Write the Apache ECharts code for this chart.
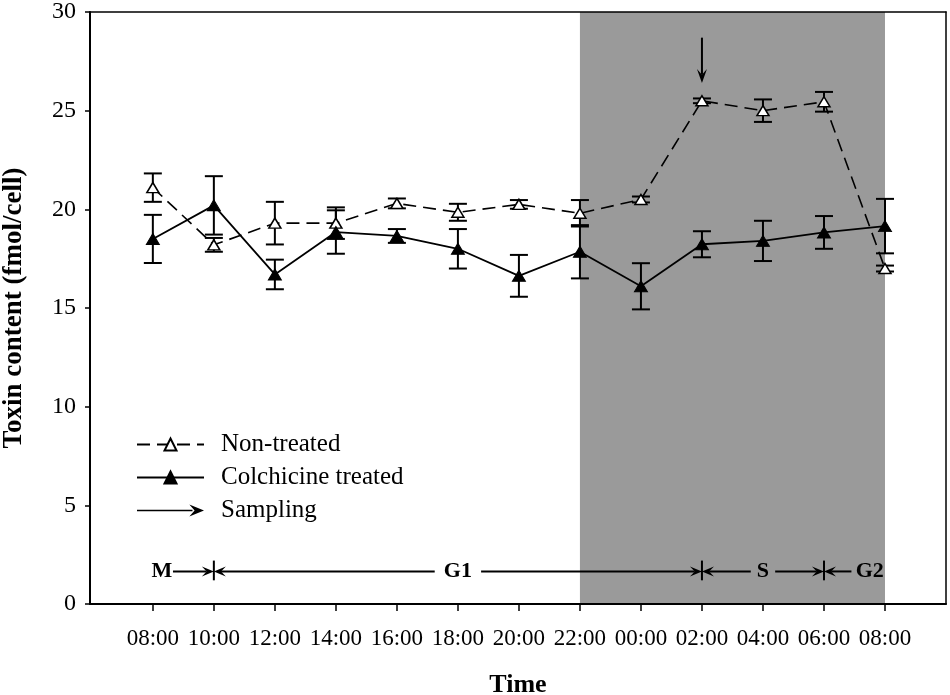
<!DOCTYPE html>
<html><head><meta charset="utf-8">
<script src="https://cdn.jsdelivr.net/npm/echarts@6/dist/echarts.min.js"></script>
<style>html,body{margin:0;padding:0;background:#fff}#c{width:950px;height:695px}</style>
</head><body><div id="c"></div>
<script>
// ---- data ----
const times = ['08:00','10:00','12:00','14:00','16:00','18:00','20:00','22:00','00:00','02:00','04:00','06:00','08:00'];
const nonTreated    = [21.1, 18.2, 19.3, 19.3, 20.3, 19.85, 20.25, 19.8, 20.5, 25.5, 25.0, 25.45, 17.0];
const nonTreatedErr = [0.72, 0.35, 1.08, 0.8, 0.25, 0.43, 0.22, 0.67, 0.15, 0.12, 0.57, 0.5, 0.15];
const colchicine    = [18.5, 20.2, 16.7, 18.85, 18.65, 18.0, 16.63, 17.85, 16.1, 18.23, 18.4, 18.83, 19.15];
const colchicineErr = [1.22, 1.48, 0.75, 1.1, 0.35, 1.0, 1.06, 1.35, 1.17, 0.66, 1.02, 0.83, 1.38];
const darkPeriod = [7, 12];               // 22:00 -> 08:00 (index)
const samplingArrow = [9, 28.7, 26.4];    // x index, from y, to y
const phaseNames = ['M', 'G1', 'S', 'G2'];
const phaseLabelX = [0.15, 5, 10, 11.75];
const phaseBounds = [1, 9, 11];
const phaseArrows = [[0.33, 1], [4.62, 1], [5.38, 9], [9.8, 9], [10.2, 11], [11.45, 11]];
const phaseY = 1.65;
const phaseBarRange = [1.2, 2.2];
const tickIdx = times.map((t, i) => i);

const FF = 'Liberation Serif';
const chart = echarts.init(document.getElementById('c'));

function errRender(params, api) {
  const x = api.value(0), lo = api.value(1), hi = api.value(2);
  const a = api.coord([x, lo]), b = api.coord([x, hi]);
  const w = 9, st = {stroke: '#000', lineWidth: 2};
  return {type: 'group', children: [
    {type: 'line', shape: {x1: a[0], y1: a[1], x2: b[0], y2: b[1]}, style: st},
    {type: 'line', shape: {x1: b[0] - w, y1: b[1], x2: b[0] + w, y2: b[1]}, style: st},
    {type: 'line', shape: {x1: a[0] - w, y1: a[1], x2: a[0] + w, y2: a[1]}, style: st}
  ]};
}
function hArrowRender(params, api) {
  const p1 = api.coord([api.value(0), api.value(2)]);
  const p2 = api.coord([api.value(1), api.value(2)]);
  const dir = p2[0] > p1[0] ? 1 : -1, L = 12, H = 5;
  const tip = p2;
  return {type: 'group', children: [
    {type: 'line', shape: {x1: p1[0], y1: p1[1], x2: tip[0] - dir * L * 0.6, y2: tip[1]}, style: {stroke: '#000', lineWidth: 2}},
    {type: 'polygon', shape: {points: [[tip[0], tip[1]], [tip[0] - dir * L, tip[1] - H], [tip[0] - dir * L * 0.6, tip[1]], [tip[0] - dir * L, tip[1] + H]]}, style: {fill: '#000'}}
  ]};
}
function barRender(params, api) {
  const a = api.coord([api.value(0), api.value(1)]), b = api.coord([api.value(0), api.value(2)]);
  return {type: 'line', shape: {x1: a[0], y1: a[1], x2: b[0], y2: b[1]}, style: {stroke: '#000', lineWidth: 2}};
}
function labelRender(params, api) {
  const p = api.coord([api.value(0), api.value(1)]);
  return {type: 'text', x: p[0], y: p[1], style: {text: phaseNames[params.dataIndex], fill: '#000',
    font: 'bold 22px "' + FF + '"', align: 'center', verticalAlign: 'middle'}};
}
function vArrowRender(params, api) {
  const a = api.coord([api.value(0), api.value(1)]), b = api.coord([api.value(0), api.value(2)]);
  const L = 14, H = 5;
  return {type: 'group', children: [
    {type: 'line', shape: {x1: a[0], y1: a[1], x2: b[0], y2: b[1] - L * 0.6}, style: {stroke: '#000', lineWidth: 2}},
    {type: 'polygon', shape: {points: [[b[0], b[1]], [b[0] - H, b[1] - L], [b[0], b[1] - L * 0.6], [b[0] + H, b[1] - L]]}, style: {fill: '#000'}}
  ]};
}

const option = {
  animation: false,
  backgroundColor: '#fff',
  grid: {left: 90, right: 4, top: 12, bottom: 91, containLabel: false, outerBoundsMode: 'none'},
  legend: {
    orient: 'vertical', left: 131, top: 427, itemWidth: 67, itemHeight: 15, itemGap: 8,
    selectedMode: false,
    textStyle: {fontFamily: FF, fontSize: 25, color: '#000', padding: [0, 0, 0, 12]},
    data: [{name: 'Non-treated'}, {name: 'Colchicine treated'},
      {name: 'Sampling', icon: 'path://M0,5 L53,5 L53,6.5 L0,6.5 Z M50,0 L64,5.75 L50,11.5 L55,5.75 Z'}]
  },
  xAxis: [{
    type: 'value', min: -1.03, max: 13, position: 'bottom', z: 10,
    axisLine: {show: true, onZero: false, lineStyle: {color: '#000', width: 2}},
    axisTick: {show: true, customValues: tickIdx, length: 7, lineStyle: {color: '#000', width: 1.5}},
    axisLabel: {customValues: tickIdx, formatter: v => times[v], fontFamily: FF, fontSize: 23, color: '#000', margin: 23},
    splitLine: {show: false},
    name: 'Time', nameLocation: 'middle', nameGap: 68,
    nameTextStyle: {fontFamily: FF, fontSize: 26, fontWeight: 'bold', color: '#000'}
  }, {
    type: 'value', min: -1.03, max: 13, position: 'top', z: 10,
    axisLine: {show: true, onZero: false, lineStyle: {color: '#000', width: 1.5}},
    axisTick: {show: false}, axisLabel: {show: false}, splitLine: {show: false}
  }],
  yAxis: [{
    type: 'value', min: 0, max: 30, interval: 5, position: 'left', z: 10,
    axisLine: {show: true, onZero: false, lineStyle: {color: '#000', width: 2}},
    axisTick: {show: true, length: 5, lineStyle: {color: '#000', width: 1.5}},
    axisLabel: {fontFamily: FF, fontSize: 24, color: '#000', margin: 14},
    splitLine: {show: false},
    name: 'Toxin content (fmol/cell)', nameLocation: 'middle', nameGap: 62,
    nameTextStyle: {fontFamily: FF, fontSize: 27, fontWeight: 'bold', color: '#000'}
  }, {
    type: 'value', min: 0, max: 30, position: 'right', z: 10,
    axisLine: {show: true, onZero: false, lineStyle: {color: '#000', width: 1.5}},
    axisTick: {show: false}, axisLabel: {show: false}, splitLine: {show: false}
  }],
  series: [
    {
      type: 'line', name: 'dark', data: [], z: 1, silent: true,
      markArea: {silent: true, itemStyle: {color: '#9a9a9a'},
        data: [[{xAxis: darkPeriod[0], yAxis: 0}, {xAxis: darkPeriod[1], yAxis: 30}]]}
    },
    {
      type: 'custom', name: 'errNT', z: 2, silent: true, renderItem: errRender, encode: {x: 0, y: [1, 2]},
      data: nonTreated.map((v, i) => [i, v - nonTreatedErr[i], v + nonTreatedErr[i]])
    },
    {
      type: 'custom', name: 'errCol', z: 2, silent: true, renderItem: errRender, encode: {x: 0, y: [1, 2]},
      data: colchicine.map((v, i) => [i, v - colchicineErr[i], v + colchicineErr[i]])
    },
    {
      type: 'line', name: 'Non-treated', z: 3, symbol: 'triangle', symbolSize: [12, 10],
      data: nonTreated.map((v, i) => [i, v]),
      lineStyle: {color: '#000', width: 1.6, type: [13, 7]},
      itemStyle: {color: '#fff', borderColor: '#000', borderWidth: 1.5},
      emphasis: {disabled: true}
    },
    {
      type: 'line', name: 'Colchicine treated', z: 4, symbol: 'triangle', symbolSize: [13, 11],
      data: colchicine.map((v, i) => [i, v]),
      lineStyle: {color: '#000', width: 1.8},
      itemStyle: {color: '#000', borderColor: '#000', borderWidth: 1},
      emphasis: {disabled: true}
    },
    {
      type: 'custom', name: 'Sampling', z: 5, silent: true, renderItem: vArrowRender,
      itemStyle: {color: '#000'}, encode: {x: 0, y: [1, 2]},
      data: [samplingArrow]
    },
    {
      type: 'custom', name: 'phaseArrows', z: 5, silent: true, renderItem: hArrowRender,
      encode: {x: [0, 1], y: 2},
      data: phaseArrows.map(a => [a[0], a[1], phaseY])
    },
    {
      type: 'custom', name: 'phaseBars', z: 5, silent: true, renderItem: barRender,
      encode: {x: 0, y: [1, 2]},
      data: phaseBounds.map(x => [x, phaseBarRange[0], phaseBarRange[1]])
    },
    {
      type: 'custom', name: 'phaseLabels', z: 5, silent: true, renderItem: labelRender,
      encode: {x: 0, y: 1},
      data: phaseLabelX.map(x => [x, phaseY])
    }
  ]
};
chart.setOption(option);
</script>
</body></html>
